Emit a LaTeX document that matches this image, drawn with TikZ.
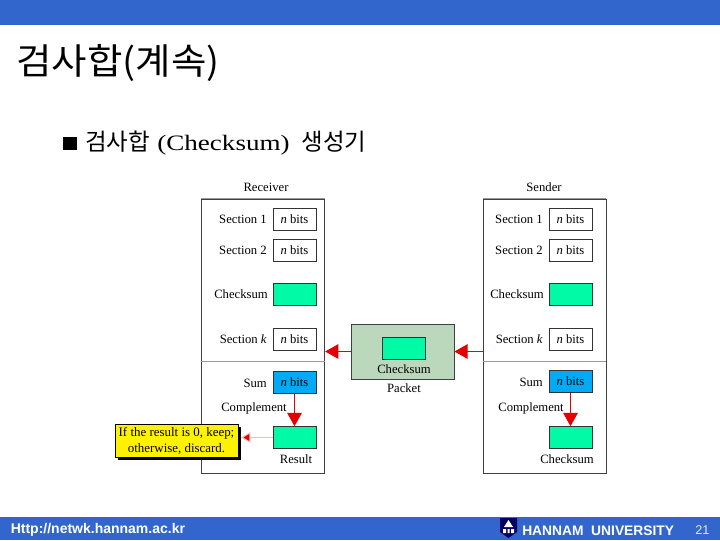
\documentclass[tikz,border=0pt]{standalone}
\usepackage{fontspec}
\setmainfont{Liberation Serif}
\newfontfamily\cjkfont{Noto Sans CJK KR}
\newfontfamily\titlefont[FakeStretch=1.07]{Noto Sans CJK KR}
\newfontfamily\widefont[FakeStretch=1.23]{Liberation Serif}
\newfontfamily\footfont{Liberation Sans}
\usetikzlibrary{arrows.meta}
\usetikzlibrary{shadows}
\definecolor{barblue}{RGB}{51,102,204}
\definecolor{sumgreen}{RGB}{0,250,165}
\definecolor{sumblue}{RGB}{0,170,245}
\definecolor{pktgreen}{RGB}{188,216,188}
\definecolor{notered}{RGB}{240,190,190}
\tikzset{
  panel/.style={draw=black!75,line width=0.6pt,minimum width=92.25pt,inner sep=0pt},
  rulegray/.style={draw=black!40,line width=0.6pt},
  bitbox/.style={draw=black!80,line width=0.5pt,minimum width=32pt,minimum height=16.5pt,inner sep=0pt,font=\fontsize{9.5}{11}\selectfont},
  sumbox/.style={bitbox,fill=sumgreen},
  lbl/.style={inner sep=0pt,font=\fontsize{9.5}{11}\selectfont},
  bigred/.style={draw=red!90!black,line width=0.8pt,-{Triangle[length=10pt,width=11pt,fill=red!90!black]}},
  palered/.style={draw=notered,line width=0.8pt,-{Triangle[length=7pt,width=8pt,fill=red!90!black]}},
}

\begin{document}
\begin{tikzpicture}[x=0.75pt,y=0.75pt,yscale=-1,xscale=1]
\useasboundingbox (0,0) rectangle (720,540);

%Bars
\fill [barblue] (0,0) rectangle (720,25);
\fill [barblue] (0,517) rectangle (720,540);

% Text Node
\node (titleText) [anchor=west,inner sep=0pt,font=\titlefont\fontsize{27}{30}\selectfont] at (16,63) {검사합(계속)};
% Text Node
\node (bulletText) [anchor=west,inner sep=0pt,font=\fontsize{12}{14}\selectfont] at (63,143.5) {\rule{10pt}{10pt}};
\node (subText) [anchor=west,inner sep=0pt] at (85,143) {{\cjkfont\fontsize{17.6}{20}\selectfont 검사합}\hspace{5.5pt}{\widefont\fontsize{16.5}{20}\selectfont (Checksum)}\hspace{9pt}{\cjkfont\fontsize{17.6}{20}\selectfont 생성기}};

%Receiver
\node (rcvTitle) [lbl] at (266,187) {Receiver};
\node (rcvTop) [panel,minimum height=121.5pt] at (263.25,280) {};
\node (rcvBot) [panel,minimum height=84pt] at (263.25,417) {};
\draw [rulegray] (rcvTop.north west) -- (rcvTop.north east);
\draw [rulegray] (rcvTop.south west) -- (rcvTop.south east);
\node (rcvOne) [bitbox] at (294.5,219) {\textit{n} bits};
\node (rcvTwo) [bitbox] at (294.5,250) {\textit{n} bits};
\node (rcvCheck) [sumbox] at (294.5,294) {};
\node (rcvK) [bitbox] at (294.5,339) {\textit{n} bits};
\node (rcvSum) [bitbox,fill=sumblue] at (294.5,382.5) {\textit{n} bits};
\node (rcvResult) [sumbox] at (294.5,437.5) {};
\node (rcvOneLbl) [lbl,anchor=east] at (267,219) {Section 1};
\node (rcvTwoLbl) [lbl,anchor=east] at (267,250) {Section 2};
\node (rcvCheckLbl) [lbl,anchor=east] at (268,294) {Checksum};
\node (rcvKLbl) [lbl,anchor=east] at (267,339) {Section \textit{k}};
\node (rcvSumLbl) [lbl,anchor=east] at (267,383) {Sum};
\node (rcvCompLbl) [lbl,anchor=east] at (287,408) {Complement};
\node (rcvResLbl) [lbl] at (296,459) {Result};

%Sender
\node (sndTitle) [lbl] at (544,187) {Sender};
\node (sndTop) [panel,minimum height=121.5pt] at (544.5,280) {};
\node (sndBot) [panel,minimum height=84pt] at (544.5,417) {};
\draw [rulegray] (sndTop.north west) -- (sndTop.north east);
\draw [rulegray] (sndTop.south west) -- (sndTop.south east);
\node (sndOne) [bitbox] at (570.5,219) {\textit{n} bits};
\node (sndTwo) [bitbox] at (570.5,250) {\textit{n} bits};
\node (sndCheck) [sumbox] at (570.5,294) {};
\node (sndK) [bitbox] at (570.5,339) {\textit{n} bits};
\node (sndSum) [bitbox,fill=sumblue] at (570.5,381.5) {\textit{n} bits};
\node (sndResult) [sumbox] at (570.5,437.5) {};
\node (sndOneLbl) [lbl,anchor=east] at (543,219) {Section 1};
\node (sndTwoLbl) [lbl,anchor=east] at (543,250) {Section 2};
\node (sndCheckLbl) [lbl,anchor=east] at (544,294) {Checksum};
\node (sndKLbl) [lbl,anchor=east] at (543,339) {Section \textit{k}};
\node (sndSumLbl) [lbl,anchor=east] at (543,382) {Sum};
\node (sndCompLbl) [lbl,anchor=east] at (564,408) {Complement};
\node (sndResLbl) [lbl] at (567,459) {Checksum};

%Packet
\node (pktBox) [draw=black!75,fill=pktgreen,line width=0.6pt,minimum width=77.25pt,minimum height=41.25pt,inner sep=0pt] at (402.5,351.5) {};
\node (pktCheck) [sumbox] at (404,348) {};
\node (pktCheckLbl) [lbl] at (404,369) {Checksum};
\node (pktLbl) [lbl] at (404,388) {Packet};

%Note
\node (noteBox) [draw=black,fill=yellow,line width=0.6pt,minimum width=92.25pt,minimum height=24.75pt,inner sep=0pt,align=center,font=\fontsize{9.7}{12}\selectfont,drop shadow={shadow xshift=2.2pt,shadow yshift=-2.2pt,fill=black,opacity=1}] at (176.5,440.5) {If the result is 0, keep;\\otherwise, discard.};

%Arrows
\draw [bigred] (sndTop.east |- pktBox.east) ++(-123,0) coordinate (sndEdge) -- (pktBox.east);
\draw [bigred] (pktBox.west) -- (rcvTop.east |- pktBox.west);
\draw [bigred] (rcvSum) -- (rcvResult);
\draw [bigred] (sndSum) -- (sndResult);
\draw [palered,shorten >=2pt] (rcvResult.west) -- (rcvResult.west -| noteBox.east);

%Logo
\fill [black!10!blue!45!black] (500,518) -- (517,518) -- (517,532) -- (508.5,538) -- (500,532) -- cycle;
\fill [white] (508.5,520) -- (513,527) -- (504,527) -- cycle;
\fill [white] (503,529) rectangle (506,533) (507.5,529) rectangle (509.5,533) (511,529) rectangle (514,533);

% Text Node
\node (urlText) [anchor=west,inner sep=0pt,text=white,font=\footfont\bfseries\fontsize{10.5}{12}\selectfont] at (10.5,529.5) {Http://netwk.hannam.ac.kr};
% Text Node
\node (uniText) [anchor=west,inner sep=0pt,text=white,font=\footfont\bfseries\fontsize{10.35}{12}\selectfont] at (522,530.5) {HANNAM\ \ UNIVERSITY};
% Text Node
\node (pageText) [anchor=west,inner sep=0pt,text=white!85!barblue,font=\footfont\fontsize{9.5}{12}\selectfont] at (695,530.5) {21};

\end{tikzpicture}
\end{document}
